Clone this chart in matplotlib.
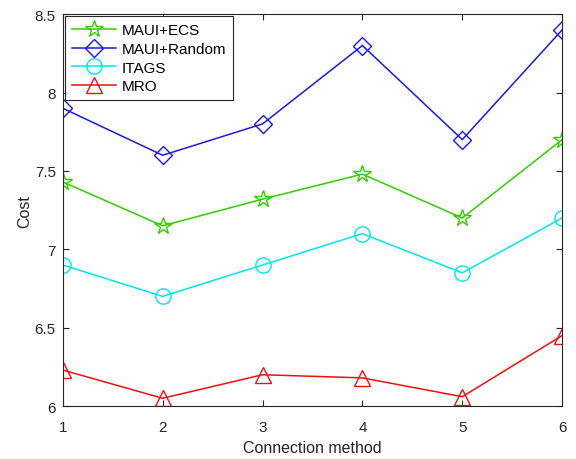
import matplotlib
matplotlib.use("Agg")
import matplotlib.pyplot as plt

plt.rcParams['font.family'] = ['Liberation Sans', 'DejaVu Sans']

x = [1, 2, 3, 4, 5, 6]
maui_ecs = [7.43, 7.15, 7.32, 7.48, 7.20, 7.70]
maui_random = [7.90, 7.60, 7.80, 8.30, 7.70, 8.40]
itags = [6.90, 6.70, 6.90, 7.10, 6.85, 7.20]
mro = [6.23, 6.05, 6.20, 6.18, 6.06, 6.45]

fig = plt.figure(figsize=(5.76, 4.6), dpi=100)
ax = fig.add_axes([0.109, 0.115, 0.867, 0.852])

ax.plot(x, maui_ecs, color='#33cc00', marker='*', markersize=13, markerfacecolor='none',
        markeredgewidth=1.0, linewidth=1.1, label='MAUI+ECS')
ax.plot(x, maui_random, color='#1a1adb', marker='D', markersize=9, markerfacecolor='none',
        markeredgewidth=1.0, linewidth=1.1, label='MAUI+Random')
ax.plot(x, itags, color='#00e5ee', marker='o', markersize=11, markerfacecolor='none',
        markeredgewidth=1.0, linewidth=1.1, label='ITAGS')
ax.plot(x, mro, color='#ee1111', marker='^', markersize=12, markerfacecolor='none',
        markeredgewidth=1.0, linewidth=1.1, label='MRO')

ax.set_xlim(1, 6)
ax.set_ylim(6, 8.5)
ax.set_xticks([1, 2, 3, 4, 5, 6])
ax.set_yticks([6, 6.5, 7, 7.5, 8, 8.5])
ax.set_yticklabels(['6', '6.5', '7', '7.5', '8', '8.5'])
ax.tick_params(direction='in', top=True, right=True, labelsize=11, colors='#262626',
               length=4, width=0.8)
ax.tick_params(axis='x', pad=10)
ax.tick_params(axis='y', pad=5)
for s in ax.spines.values():
    s.set_color('#262626')
    s.set_linewidth(0.8)
ax.set_xlabel('Connection method', fontsize=11.5, color='#262626', labelpad=4)
ax.set_ylabel('Cost', fontsize=11.5, color='#262626', labelpad=2)

leg = ax.legend(loc='upper left', fontsize=11, handlelength=2.9, fancybox=False,
                framealpha=1, edgecolor='#262626', borderaxespad=0.15,
                labelspacing=0.3, borderpad=0.45, handletextpad=0.35,
                bbox_to_anchor=(0.0, 1.0))
leg.get_frame().set_linewidth(0.8)

fig.savefig('out.png', dpi=100)
